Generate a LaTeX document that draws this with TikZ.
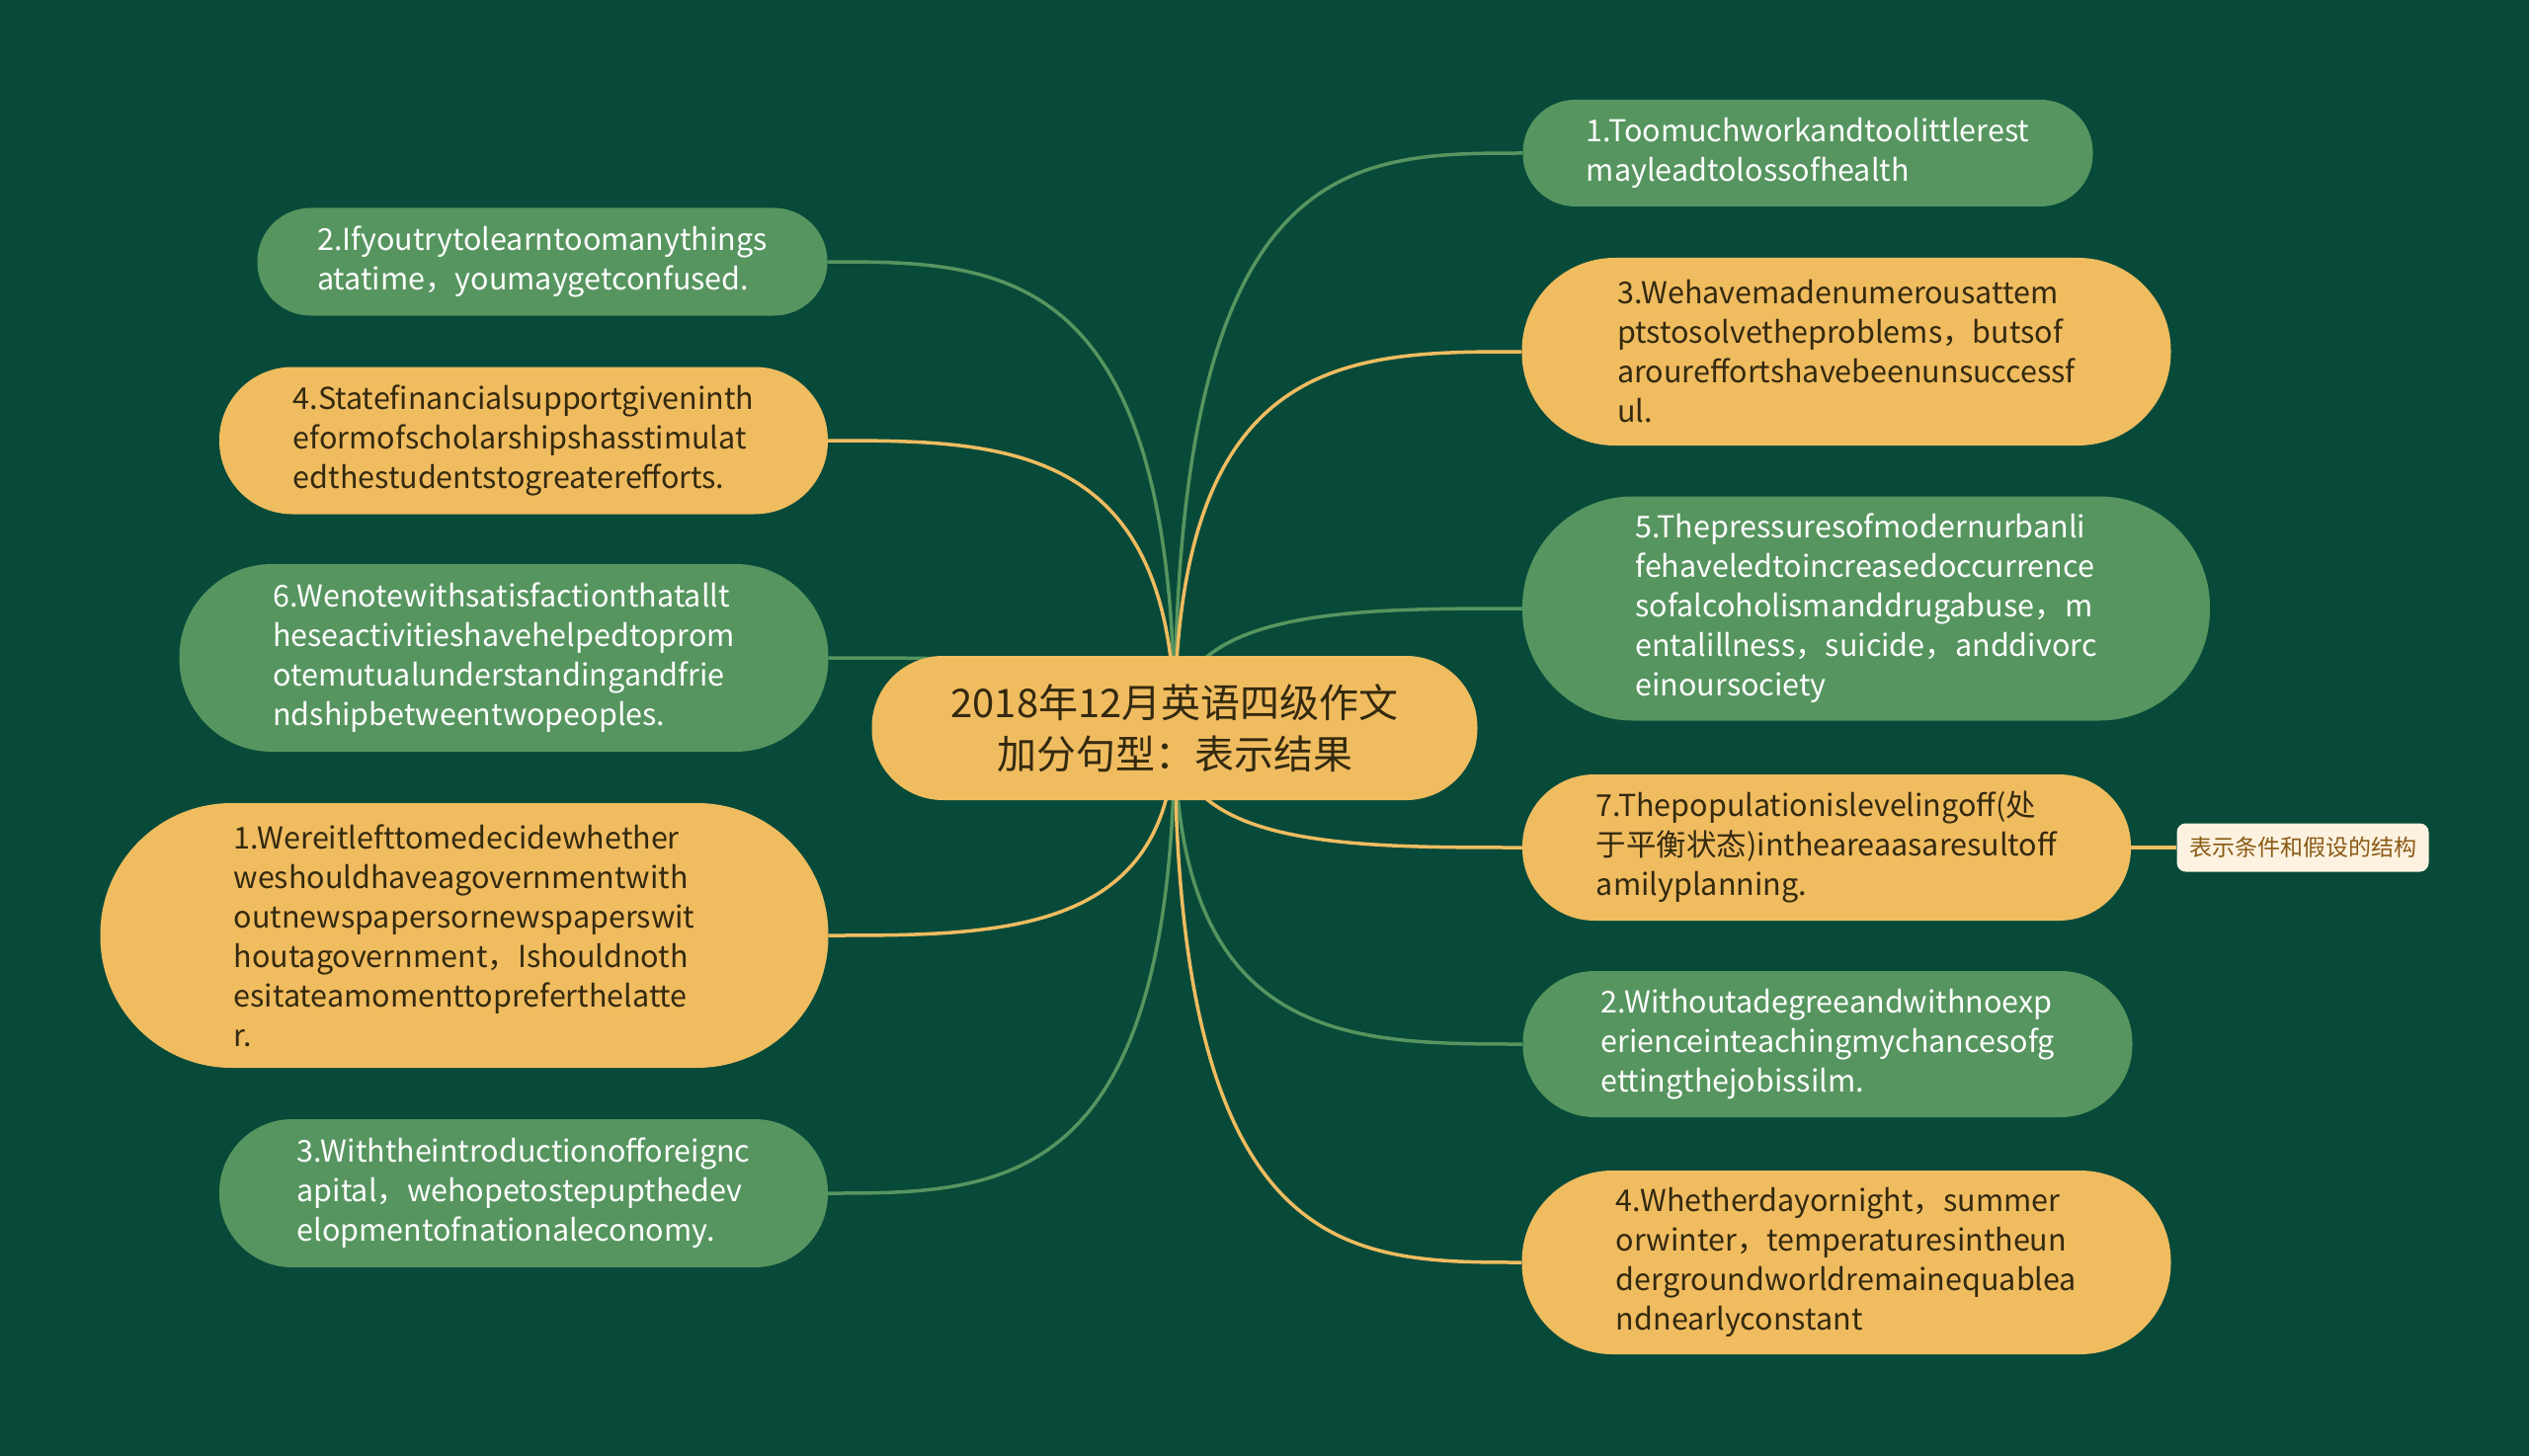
\documentclass[tikz,border=0pt]{standalone}
\usepackage{fontspec}
\setmainfont{Noto Sans CJK SC}
\usetikzlibrary{calc}
\definecolor{bgc}{HTML}{074A39}
\definecolor{gfill}{HTML}{56955F}
\definecolor{ofill}{HTML}{F0BC60}
\definecolor{dtext}{HTML}{33290F}
\definecolor{lfill}{HTML}{FDF2E0}
\definecolor{ltext}{HTML}{8A5A14}
\pgfdeclarelayer{bg}
\pgfsetlayers{bg,main}
\newcommand\mmconn[3]{\draw[#1] (c.center) .. controls (c.center |- #2.#3) and ($(c.center |- #2.#3)!0.5!(#2.#3)$) .. (#2.#3);}
\begin{document}
\begin{tikzpicture}[x=1pt,y=-1pt,
  gnode/.style={fill=gfill, text=white, align=left, font=\fontsize{30.5}{40}\selectfont},
  onode/.style={fill=ofill, text=dtext, align=left, font=\fontsize{30.5}{40}\selectfont},
  gl/.style={draw=gfill, line width=3.5pt},
  ol/.style={draw=ofill, line width=3.5pt}]
\begin{pgfonlayer}{bg}
\fill[bgc] (0,0) rectangle (2560,1474);
\end{pgfonlayer}
\useasboundingbox (0,0) rectangle (2560,1474);
% centre
\node[fill=ofill, text=dtext, align=center, minimum width=613pt, minimum height=146pt, rounded corners=72pt, font=\fontsize{40}{52}\selectfont] (c) at (1189,737) {2018年12月英语四级作文\\加分句型：表示结果};
% right
\node[gnode, minimum width=577pt, minimum height=108pt, rounded corners=53pt] (r1) at (1830,155) {1.Toomuchworkandtoolittlerest\\mayleadtolossofhealth};
\node[onode, minimum width=657pt, minimum height=190pt, rounded corners=94pt] (r3) at (1869,356) {3.Wehavemadenumerousattem\\ptstosolvetheproblems，butsof\\aroureffortshavebeenunsuccessf\\ul.};
\node[gnode, minimum width=696pt, minimum height=227pt, rounded corners=112pt] (r5) at (1889,616) {5.Thepressuresofmodernurbanli\\fehaveledtoincreasedoccurrence\\sofalcoholismanddrugabuse，m\\entalillness，suicide，anddivorc\\einoursociety};
\node[onode, minimum width=616pt, minimum height=148pt, rounded corners=73pt] (r7) at (1849,858) {7.Thepopulationislevelingoff(处\\于平衡状态)intheareaasaresultoff\\amilyplanning.};
\node[gnode, minimum width=617pt, minimum height=148pt, rounded corners=73pt] (r2) at (1850,1057) {2.Withoutadegreeandwithnoexp\\erienceinteachingmychancesofg\\ettingthejobissilm.};
\node[onode, minimum width=657pt, minimum height=186pt, rounded corners=92pt] (r4) at (1869,1278) {4.Whetherdayornight，summer\\orwinter，temperaturesintheun\\dergroundworldremainequablea\\ndnearlyconstant};
\node[fill=lfill, text=ltext, rounded corners=9pt, minimum width=255pt, minimum height=49pt, font=\fontsize{23}{28}\selectfont] (lab) at (2331,858) {表示条件和假设的结构};
% left
\node[gnode, minimum width=577pt, minimum height=109pt, rounded corners=54pt] (l2) at (549,265) {2.Ifyoutrytolearntoomanythings\\atatime，youmaygetconfused.};
\node[onode, minimum width=616pt, minimum height=149pt, rounded corners=74pt] (l4) at (530,446) {4.Statefinancialsupportgiveninth\\eformofscholarshipshasstimulat\\edthestudentstogreaterefforts.};
\node[gnode, minimum width=657pt, minimum height=190pt, rounded corners=94pt] (l6) at (510,666) {6.Wenotewithsatisfactionthatallt\\heseactivitieshavehelpedtoprom\\otemutualunderstandingandfrie\\ndshipbetweentwopeoples.};
\node[onode, minimum width=737pt, minimum height=268pt, rounded corners=133pt] (l1) at (470,947) {1.Wereitlefttomedecidewhether\\weshouldhaveagovernmentwith\\outnewspapersornewspaperswit\\houtagovernment，Ishouldnoth\\esitateamomenttopreferthelatte\\r.};
\node[gnode, minimum width=616pt, minimum height=150pt, rounded corners=74pt] (l3) at (530,1208) {3.Withtheintroductionofforeignc\\apital，wehopetostepupthedev\\elopmentofnationaleconomy.};
\begin{pgfonlayer}{bg}
\mmconn{gl}{r1}{west}
\mmconn{ol}{r3}{west}
\mmconn{gl}{r5}{west}
\mmconn{ol}{r7}{west}
\mmconn{gl}{r2}{west}
\mmconn{ol}{r4}{west}
\mmconn{gl}{l2}{east}
\mmconn{ol}{l4}{east}
\mmconn{gl}{l6}{east}
\mmconn{ol}{l1}{east}
\mmconn{gl}{l3}{east}
\draw[ol] (r7.east) -- (lab.west);
\end{pgfonlayer}
\end{tikzpicture}
\end{document}
